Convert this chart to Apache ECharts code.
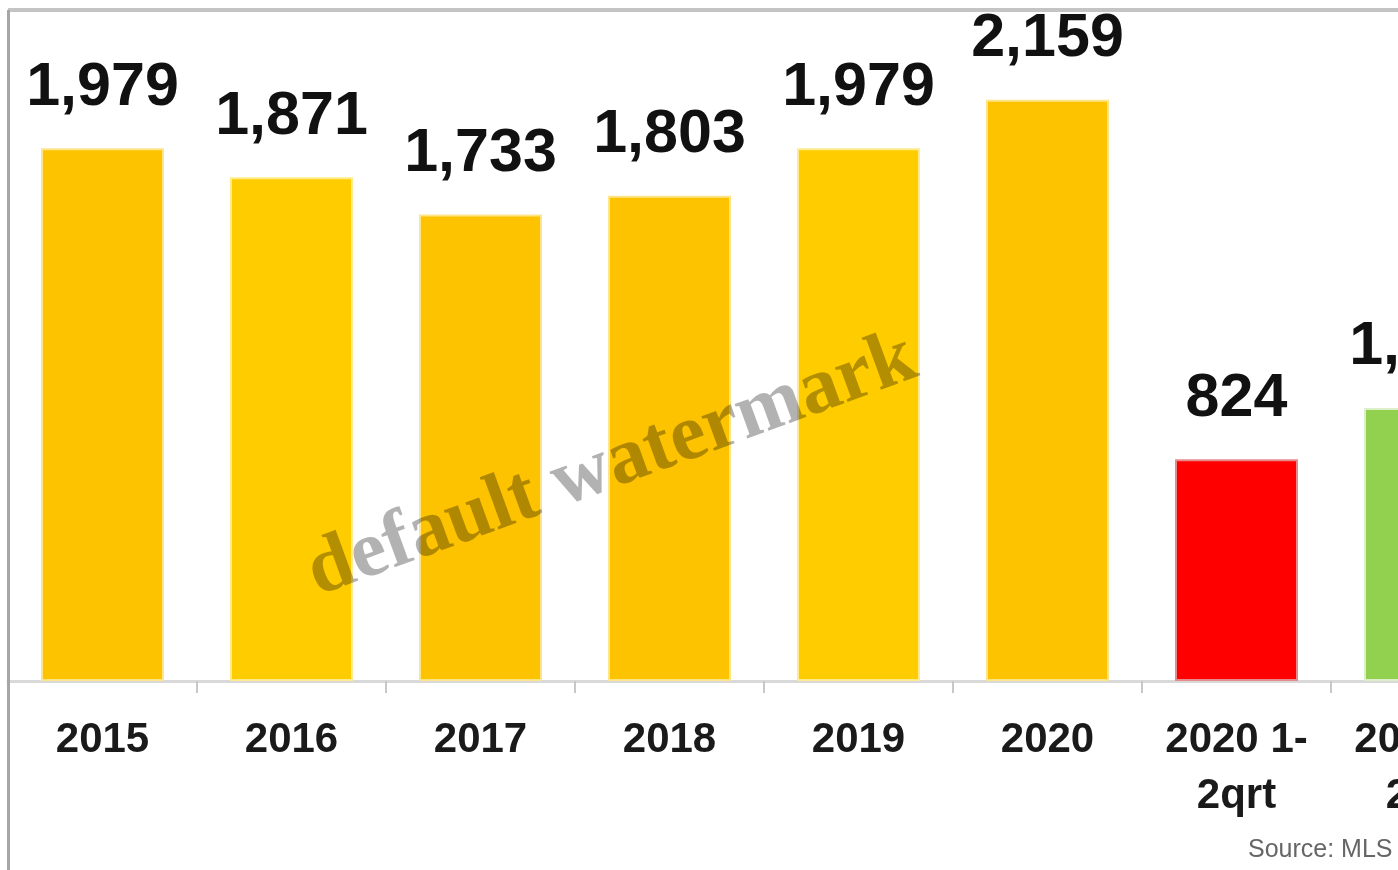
<!DOCTYPE html>
<html lang="en">
<head>
  <meta charset="UTF-8">
  <title>MLS sales by year</title>
  <script src="https://cdn.jsdelivr.net/npm/echarts@6.0.0/dist/echarts.min.js"></script>
  <style>
    html, body { margin: 0; padding: 0; background: #fff; }
    #chart { width: 1398px; height: 870px; }
  </style>
</head>
<body>
  <div id="chart"></div>
  <script>
    // data
    var categories = ['2015', '2016', '2017', '2018', '2019', '2020', '2020 1-\n2qrt', '2021 1-\n2qrt'];
    var sales = [1979, 1871, 1733, 1803, 1979, 2159, 824, 1014];
    var barColors = ['#FDC200', '#FFCC00', '#FDC200', '#FDC200', '#FFCC00', '#FDC200', '#FF0000', '#92D050'];
    var barBorders = ['#FFE58A', '#FFEB8C', '#FFE58A', '#FFE58A', '#FFEB8C', '#FFE58A', '#E88A8A', '#DDEFC8'];

    var chart = echarts.init(document.getElementById('chart'));
    chart.setOption({
      animation: false,
      // chart is cropped on the right in the reference, so the grid runs past the canvas
      grid: { left: 8, width: 1512, top: 8, bottom: 189, containLabel: false, outerBoundsMode: 'none' },
      xAxis: {
        type: 'category',
        data: categories,
        axisLine: { lineStyle: { color: '#D9D9D9', width: 3 } },
        axisTick: { show: true, length: 12, lineStyle: { color: '#C8C8C8', width: 2 } },
        axisLabel: {
          margin: 31,
          fontFamily: 'Liberation Sans',
          fontWeight: 'bold',
          fontSize: 42,
          lineHeight: 56,
          color: '#1a1a1a',
          interval: 0
        }
      },
      yAxis: { type: 'value', min: 0, max: 2500, show: false, splitLine: { show: false } },
      series: [{
        type: 'bar',
        barWidth: 123,
        data: sales.map(function (v, i) {
          return {
            value: v,
            itemStyle: { color: barColors[i], borderColor: barBorders[i], borderWidth: 2 }
          };
        }),
        label: {
          show: true,
          position: 'top',
          distance: 30,
          fontFamily: 'Liberation Sans',
          fontWeight: 'bold',
          fontSize: 61,
          color: '#111',
          formatter: function (p) { return p.value.toLocaleString('en-US'); }
        }
      }],
      graphic: [
        { type: 'rect', shape: { x: 8, y: 8, width: 1390, height: 4 }, style: { fill: '#C4C4C4' }, z: 10 },
        { type: 'rect', shape: { x: 7, y: 10, width: 3, height: 860 }, style: { fill: '#A6A6A6' }, z: 10 },
        {
          type: 'text', x: 1248, y: 838, z: 10,
          style: { text: 'Source: MLS', fontFamily: 'Liberation Sans', fontSize: 25, fill: '#666666' }
        },
        {
          type: 'text', x: 612, y: 466, rotation: 0.35, z: 20,
          style: {
            text: 'default watermark', fontFamily: 'Liberation Serif', fontWeight: 'bold',
            fontSize: 80, fill: 'rgba(0,0,0,0.3)', align: 'center', verticalAlign: 'middle'
          }
        }
      ]
    });
  </script>
</body>
</html>
